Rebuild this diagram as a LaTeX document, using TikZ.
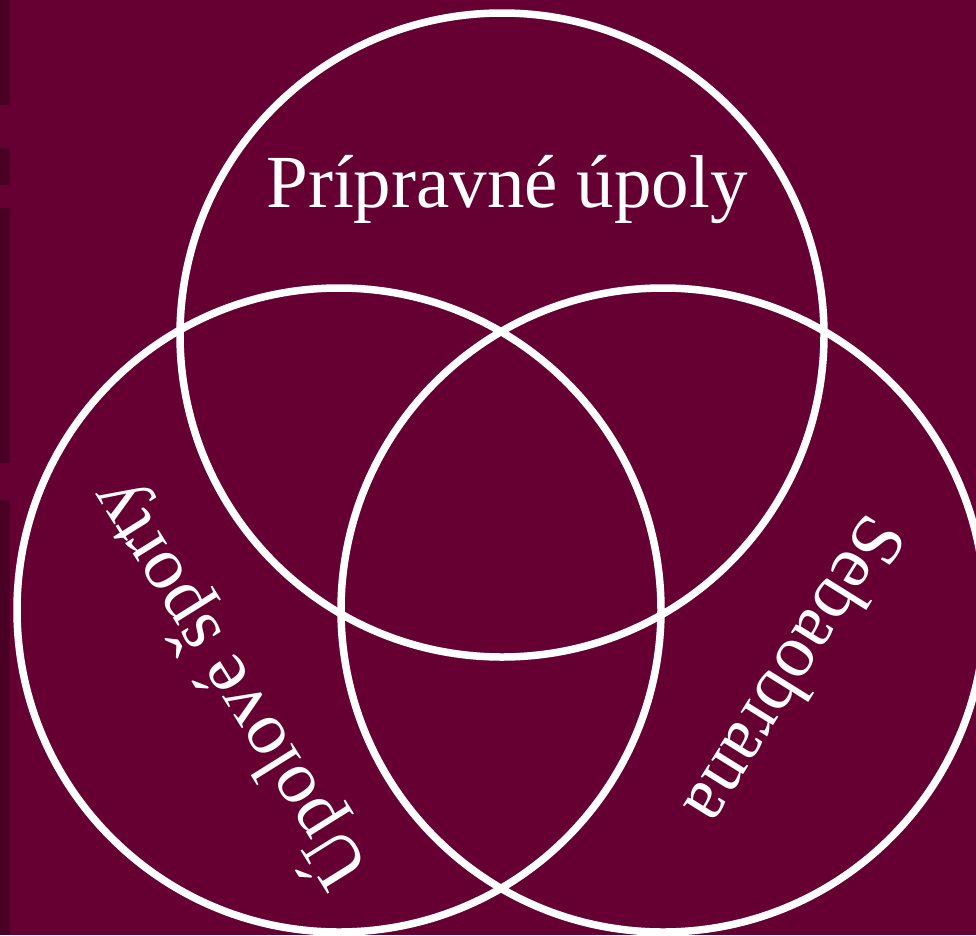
\documentclass[tikz,border=0pt]{standalone}
\usepackage{fontspec}
\setmainfont{Liberation Serif}
\definecolor{wine}{RGB}{102,0,51}
\definecolor{darkwine}{RGB}{74,0,37}
\tikzset{
  ring/.style={circle, draw=white, line width=7.5pt, minimum size=644pt, inner sep=0pt},
  venntext/.style={text=white, inner sep=0pt, font=\fontsize{75}{80}\selectfont}
}
\begin{document}
\begin{tikzpicture}[x=1pt, y=-1pt]
\fill[wine] (0,0) rectangle (976,935);
\useasboundingbox (0,0) rectangle (976,935);
\clip (0,0) rectangle (976,935);
% dark strip on the left edge
\fill[darkwine] (0,0) rectangle (10,105);
\fill[darkwine] (0,148) rectangle (10,185);
\fill[darkwine] (0,208) rectangle (10,463);
\fill[darkwine] (0,500) rectangle (10,935);
% circles
\node[ring] (top) at (502,335) {};
\node[ring] (left) at (339,610) {};
\node[ring] (right) at (663,610) {};
% texts
\node[venntext] (pripravne) at (507,190) {Prípravné úpoly};
\node[venntext, rotate=122] (upolove) at (227,685) {Úpolové športy};
\node[venntext, rotate=-122] (sebaobrana) at (797,672) {Sebaobrana};
\end{tikzpicture}
\end{document}
